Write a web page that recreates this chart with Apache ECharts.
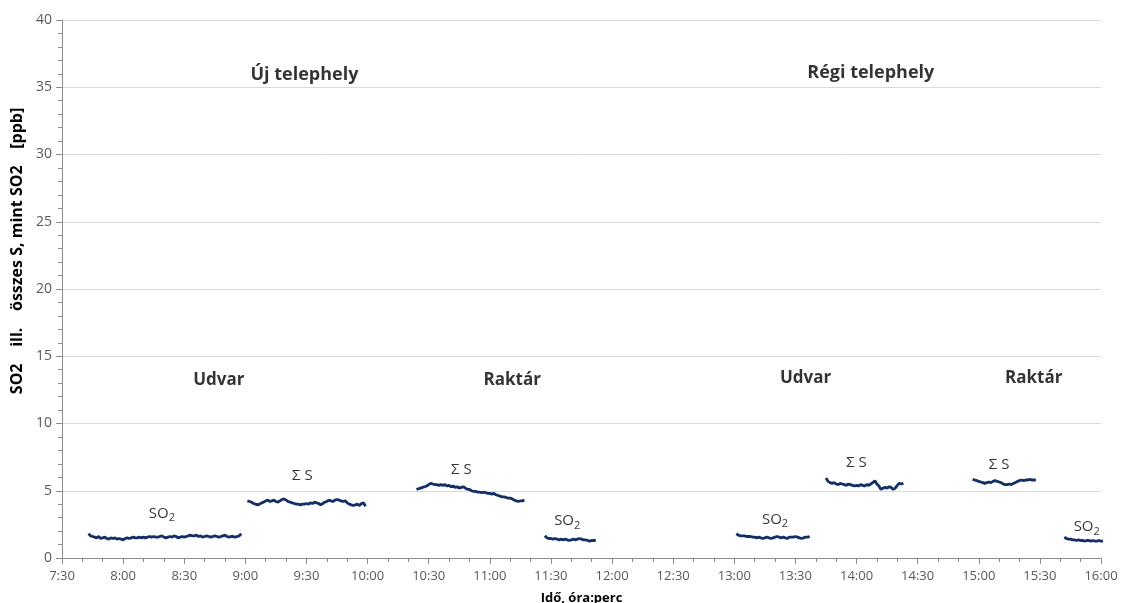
<!DOCTYPE html>
<html>
<head>
<meta charset="utf-8">
<script src="https://cdn.jsdelivr.net/npm/echarts@6/dist/echarts.min.js"></script>
<style>
  html, body { margin: 0; padding: 0; background: #fff; }
  #chart { width: 1121px; height: 603px; }
</style>
</head>
<body>
<div id="chart"></div>
<script>
// One-minute readings; each run starts at the given clock time.
const udvarUjSO2Start = '7:43';
const udvarUjSO2 = [1.8,1.65,1.6,1.55,1.5,1.6,1.45,1.5,1.55,1.45,
  1.4,1.5,1.45,1.5,1.4,1.45,1.4,1.35,1.45,1.5,
  1.45,1.5,1.55,1.5,1.5,1.55,1.5,1.55,1.5,1.55,
  1.6,1.55,1.6,1.55,1.55,1.6,1.65,1.55,1.5,1.55,
  1.6,1.55,1.65,1.6,1.5,1.55,1.6,1.55,1.6,1.65,
  1.7,1.65,1.65,1.7,1.6,1.65,1.55,1.6,1.65,1.6,
  1.55,1.6,1.65,1.6,1.55,1.6,1.65,1.7,1.6,1.55,
  1.6,1.6,1.55,1.6,1.65,1.8];

const udvarUjSStart = '9:01';
const udvarUjS = [4.25,4.2,4.15,4.05,4.0,3.95,4.0,4.1,4.15,4.25,
  4.3,4.2,4.25,4.3,4.2,4.15,4.25,4.35,4.4,4.3,
  4.2,4.15,4.1,4.05,4.0,4.0,3.95,4.0,4.0,4.05,
  4.0,4.1,4.05,4.15,4.1,4.05,3.95,4.05,4.15,4.2,
  4.3,4.25,4.2,4.3,4.35,4.3,4.25,4.2,4.25,4.1,
  4.0,3.95,3.9,3.95,4.0,3.9,4.05,4.1,3.85];

const raktarUjSStart = '10:24';
const raktarUjS = [5.1,5.15,5.2,5.25,5.3,5.35,5.45,5.55,5.5,5.45,
  5.45,5.4,5.45,5.4,5.45,5.35,5.4,5.3,5.35,5.25,
  5.3,5.2,5.25,5.3,5.2,5.1,5.1,5.0,4.95,4.95,
  4.9,4.9,4.85,4.9,4.85,4.8,4.8,4.75,4.8,4.7,
  4.65,4.6,4.55,4.55,4.5,4.45,4.45,4.4,4.3,4.25,
  4.2,4.25,4.25,4.3];

const raktarUjSO2Start = '11:27';
const raktarUjSO2 = [1.65,1.5,1.45,1.45,1.4,1.45,1.4,1.35,1.4,1.35,
  1.4,1.35,1.3,1.35,1.4,1.35,1.4,1.45,1.4,1.35,
  1.35,1.3,1.25,1.3,1.3,1.3];

const udvarRegiSO2Start = '13:01';
const udvarRegiSO2 = [1.8,1.7,1.65,1.65,1.65,1.6,1.6,1.6,1.55,1.55,
  1.5,1.55,1.5,1.45,1.5,1.55,1.5,1.45,1.5,1.55,
  1.6,1.55,1.5,1.55,1.5,1.45,1.55,1.55,1.55,1.6,
  1.55,1.5,1.45,1.5,1.55,1.55,1.6];

const udvarRegiSStart = '13:45';
const udvarRegiS = [5.95,5.7,5.6,5.55,5.6,5.5,5.45,5.55,5.5,5.45,
  5.4,5.5,5.45,5.4,5.35,5.4,5.35,5.45,5.4,5.35,
  5.45,5.4,5.5,5.6,5.75,5.5,5.35,5.1,5.2,5.25,
  5.2,5.3,5.25,5.1,5.2,5.4,5.55,5.5,5.55];

const raktarRegiSStart = '14:57';
const raktarRegiS = [5.85,5.8,5.75,5.7,5.65,5.6,5.55,5.6,5.65,5.6,
  5.7,5.75,5.7,5.65,5.6,5.5,5.45,5.45,5.5,5.45,
  5.55,5.6,5.7,5.75,5.8,5.75,5.8,5.8,5.85,5.8,
  5.8,5.8];

const raktarRegiSO2Start = '15:42';
const raktarRegiSO2 = [1.55,1.45,1.4,1.4,1.35,1.35,1.3,1.35,1.3,1.3,
  1.25,1.3,1.3,1.25,1.3,1.25,1.25,1.3,1.25,1.25,
  1.3,1.25];

// Axis ticks
const xTicks = ['7:30','8:00','8:30','9:00','9:30','10:00','10:30','11:00','11:30',
  '12:00','12:30','13:00','13:30','14:00','14:30','15:00','15:30','16:00'];
const yTicks = [0, 5, 10, 15, 20, 25, 30, 35, 40];

const runs = [
  [udvarUjSO2Start, udvarUjSO2],
  [udvarUjSStart, udvarUjS],
  [raktarUjSStart, raktarUjS],
  [raktarUjSO2Start, raktarUjSO2],
  [udvarRegiSO2Start, udvarRegiSO2],
  [udvarRegiSStart, udvarRegiS],
  [raktarRegiSStart, raktarRegiS],
  [raktarRegiSO2Start, raktarRegiSO2]
];

function toMin(s) { const p = s.split(':'); return (+p[0]) * 60 + (+p[1]); }
function fmt(m) { const h = Math.floor(m / 60), mm = m % 60; return h + ':' + (mm < 10 ? '0' : '') + mm; }

const xMin = toMin(xTicks[0]);
const xMax = toMin(xTicks[xTicks.length - 1]);

// Text placed on the plot: [clock time, ppb level, text, kind]
const notes = [
  ['9:29', 35.9, 'Új telephely', 'site'],
  ['14:07', 36.1, 'Régi telephely', 'site'],
  ['8:47', 13.25, 'Udvar', 'place'],
  ['11:11', 13.25, 'Raktár', 'place'],
  ['13:35', 13.4, 'Udvar', 'place'],
  ['15:27', 13.4, 'Raktár', 'place'],
  ['8:19', 3.3, 'SO{s|2}', 'gas'],
  ['9:28', 6.1, 'Σ S', 'gas'],
  ['10:46', 6.55, 'Σ S', 'gas'],
  ['11:38', 2.75, 'SO{s|2}', 'gas'],
  ['13:20', 2.85, 'SO{s|2}', 'gas'],
  ['14:00', 7.05, 'Σ S', 'gas'],
  ['15:10', 6.9, 'Σ S', 'gas'],
  ['15:53', 2.3, 'SO{s|2}', 'gas']
];

const FONT = "'Open Sans', 'Noto Sans', sans-serif";
const noteStyle = {
  site: { fontSize: 18, fontWeight: 'bold' },
  place: { fontSize: 17, fontWeight: 'bold' },
  gas: { fontSize: 15, fontWeight: 'normal' }
};

const LINE = '#132f66';

const lineSeries = runs.map(([start, vals]) => {
  const t0 = toMin(start);
  return {
    type: 'line',
    data: vals.map((v, i) => [t0 + i, v]),
    showSymbol: false,
    clip: false,
    lineStyle: { color: LINE, width: 2.8 },
    itemStyle: { color: LINE },
    animation: false,
    z: 3
  };
});

const noteSeries = {
  type: 'scatter',
  symbolSize: 1,
  itemStyle: { color: 'rgba(0,0,0,0)' },
  animation: false,
  silent: true,
  z: 5,
  data: notes.map(([t, v, text, kind]) => ({
    value: [toMin(t), v],
    label: {
      show: true,
      position: 'inside',
      formatter: text,
      color: '#000',
      fontFamily: FONT,
      fontSize: noteStyle[kind].fontSize,
      fontWeight: noteStyle[kind].fontWeight,
      rich: {
        s: { fontSize: 11, fontFamily: FONT, color: '#000', padding: [9, 0, 0, 0] }
      }
    }
  }))
};

const chart = echarts.init(document.getElementById('chart'), null, { renderer: 'canvas' });
chart.setOption({
  animation: false,
  backgroundColor: '#fff',
  grid: { left: 62, right: 20, top: 20, bottom: 45, outerBoundsMode: 'none', containLabel: false },
  xAxis: {
    type: 'value',
    min: xMin,
    max: xMax,
    interval: 30,
    name: 'Idő, óra:perc',
    nameLocation: 'middle',
    nameGap: 34,
    nameTextStyle: { fontFamily: FONT, fontSize: 13, fontWeight: 'bold', color: '#000', verticalAlign: 'top' },
    axisLine: { lineStyle: { color: '#8c8c8c', width: 1 } },
    axisTick: { show: true, length: 6, lineStyle: { color: '#8c8c8c' } },
    minorTick: { show: true, splitNumber: 3, length: 4, lineStyle: { color: '#8c8c8c' } },
    splitLine: { show: false },
    axisLabel: {
      margin: 12,
      fontFamily: FONT, fontSize: 13, color: '#595959',
      formatter: v => (xTicks.indexOf(fmt(v)) >= 0 ? fmt(v) : '')
    }
  },
  yAxis: {
    type: 'value',
    min: yTicks[0],
    max: yTicks[yTicks.length - 1],
    interval: yTicks[1] - yTicks[0],
    name: 'SO2    ill.    összes S, mint SO2    [ppb]',
    nameLocation: 'middle',
    nameGap: 37,
    nameTextStyle: {
      fontFamily: FONT, fontSize: 16, fontWeight: 'bold', color: '#000',
      padding: [0, 0, 0, 76]
    },
    axisLine: { show: true, lineStyle: { color: '#8c8c8c', width: 1 } },
    axisTick: { show: true, length: 6, lineStyle: { color: '#8c8c8c' } },
    minorTick: { show: true, splitNumber: 5, length: 4, lineStyle: { color: '#8c8c8c' } },
    splitLine: { show: true, lineStyle: { color: '#d9d9d9', width: 1 } },
    axisLabel: { margin: 10, fontFamily: FONT, fontSize: 14, color: '#595959' }
  },
  series: lineSeries.concat([noteSeries])
});
</script>
</body>
</html>
